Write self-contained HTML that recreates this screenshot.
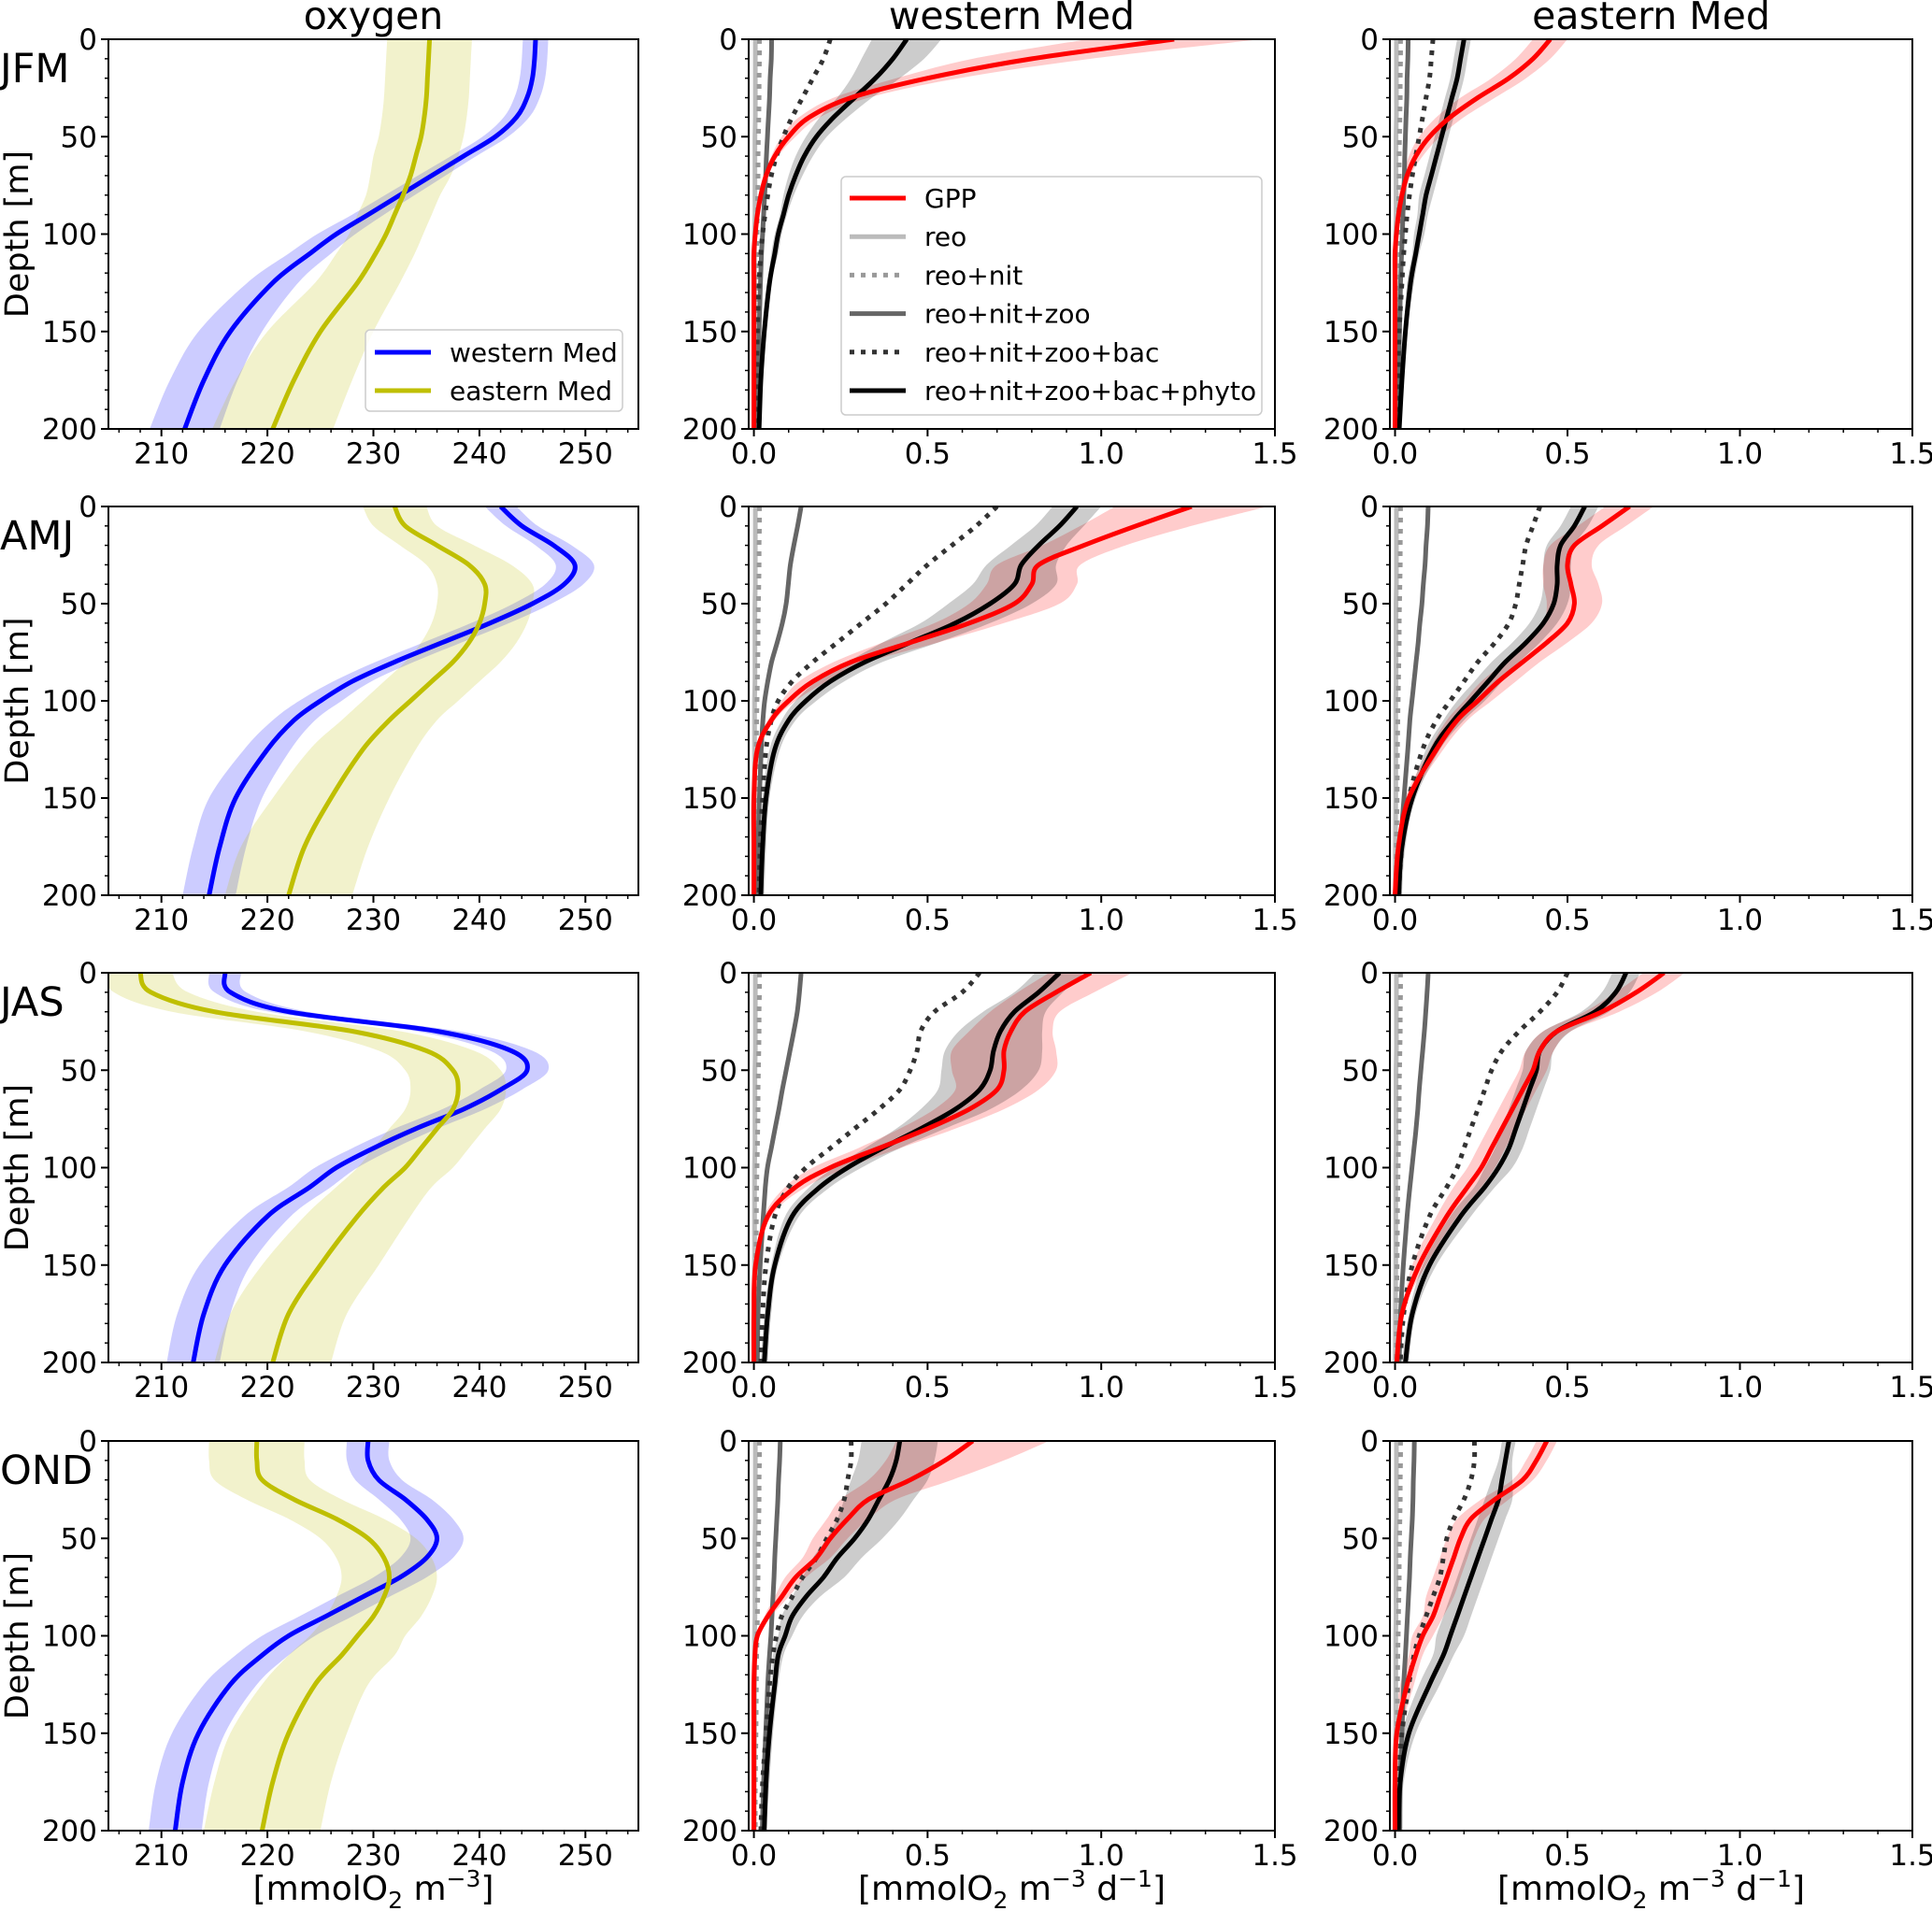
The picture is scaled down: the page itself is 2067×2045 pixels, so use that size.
<!DOCTYPE html>
<html><head><meta charset="utf-8">
<style>
html,body{margin:0;padding:0;background:#fff;}
svg{display:block;font-family:"DejaVu Sans","Liberation Sans",sans-serif;}
</style></head>
<body>
<svg id="fig" width="2067" height="2045" viewBox="0 0 2067 2045" xmlns="http://www.w3.org/2000/svg"></svg>
<script>
// ---------- data ----------
var depths = [0,10,20,30,40,50,60,70,80,90,100,110,125,150,175,200];
var seasons = ["JFM","AMJ","JAS","OND"];
var colTitles = ["oxygen","western Med","eastern Med"];
var oxTicks = [210,220,230,240,250];
var rateTicks = [0.0,0.5,1.0,1.5];
var rateTickLabels = ["0.0","0.5","1.0","1.5"];
var depthTicks = [0,50,100,150,200];

var oxWest = [
 [245.3,245.2,245,244.5,243.5,241.5,238.5,235.5,232.5,229.5,226.5,224,220.5,216.5,214,212.2],
 [242,244,247,249,248,245,241,236.5,232,228,225,222.5,220,217,215.5,214.5],
 [216,216.5,222,236,243,244.5,242,238.5,234,230,226.5,224,220,216,214,213],
 [229.5,229.5,230.5,233,235,236,235,232.5,229,225.5,222,219.5,216.5,213.5,212,211.3]];
var oxWestHw = [
 [1.2,1.2,1.2,1.2,1.2,1.2,1.2,1.3,1.4,1.5,1.8,2,2.4,3,3.2,3.3],
 [1.5,1.5,1.7,1.8,1.8,1.8,1.8,1.8,1.8,1.8,2,2,2.2,2.5,2.5,2.5],
 [1.5,1.5,1.8,2,2,2,2,2,2,2,2,2,2.2,2.4,2.5,2.5],
 [2,2,2.2,2.5,2.5,2.5,2.5,2.5,2.5,2.5,2.5,2.5,2.5,2.5,2.5,2.5]];
var oxEast = [
 [235.3,235.2,235.1,235,234.8,234.5,234,233.5,232.8,232,231.2,230.2,228.5,225,222.5,220.5],
 [232,233,236,239,240.5,240.5,240,239,237.5,235.5,233.5,231.5,229,226,223.5,222],
 [208,209,215,228,235,237.5,238,237.5,236,234.5,233,231,228.5,225,222,220.5],
 [219,219,219.5,222.5,226.5,229.5,231,231.5,231,230,228.5,227,224.5,222,220.5,219.5]];
var oxEastHw = [
 [4,4,4,4,4,4,4,3.8,3.5,3.5,3.5,3.7,4,5,5.5,5.7],
 [3,3,3.5,4,4.5,4.5,4.5,4.5,4.5,4.5,4.5,4.5,5,5.5,6,6],
 [3,3.5,4,4.5,4.5,4.5,4.5,4.5,4.5,4.5,4.5,4.5,5,5.5,5.5,5.5],
 [4.5,4.5,4.5,4.5,4.5,4.5,4.5,4.5,4.5,4.5,4.5,5,5,5.5,5.5,5.5]];

var gpp = [
 [[1.21,0.8,0.5,0.28,0.16,0.1,0.06,0.035,0.02,0.01,0.004,0,0,0,0,0],
  [0.45,0.40,0.33,0.24,0.16,0.1,0.06,0.035,0.02,0.01,0.004,0,0,0,0,0]],
 [[1.26,1.1,0.95,0.82,0.8,0.75,0.62,0.45,0.28,0.17,0.1,0.05,0.01,0,0,0],
  [0.68,0.6,0.52,0.5,0.51,0.52,0.5,0.44,0.37,0.3,0.24,0.18,0.12,0.04,0.01,0]],
 [[0.97,0.87,0.78,0.74,0.72,0.72,0.7,0.62,0.5,0.36,0.22,0.12,0.04,0.005,0,0],
  [0.78,0.7,0.6,0.47,0.42,0.4,0.37,0.34,0.31,0.28,0.25,0.21,0.15,0.07,0.02,0.005]],
 [[0.63,0.55,0.45,0.33,0.27,0.22,0.18,0.12,0.08,0.04,0.01,0.003,0,0,0,0],
  [0.44,0.41,0.37,0.29,0.22,0.19,0.17,0.15,0.13,0.11,0.08,0.06,0.035,0.005,0,0]]];
var gppHw = [
 [[0.25,0.17,0.09,0.05,0.03,0.02,0.01,0.005,0,0,0,0,0,0,0,0],
  [0.05,0.05,0.05,0.05,0.04,0.03,0.02,0.01,0.01,0,0,0,0,0,0,0]],
 [[0.22,0.16,0.12,0.12,0.13,0.13,0.1,0.08,0.05,0.04,0.02,0.01,0,0,0,0],
  [0.07,0.07,0.07,0.07,0.08,0.08,0.07,0.06,0.05,0.05,0.04,0.03,0.02,0.01,0,0]],
 [[0.12,0.11,0.1,0.12,0.15,0.15,0.12,0.1,0.08,0.06,0.05,0.03,0.01,0,0,0],
  [0.06,0.06,0.05,0.04,0.04,0.04,0.04,0.04,0.04,0.04,0.04,0.04,0.03,0.02,0,0]],
 [[0.22,0.17,0.12,0.08,0.06,0.05,0.04,0.03,0.02,0.01,0,0,0,0,0,0],
  [0.03,0.03,0.03,0.04,0.04,0.04,0.04,0.04,0.04,0.03,0.03,0.02,0.02,0.01,0,0]]];
var phyto = [
 [[0.44,0.40,0.35,0.29,0.23,0.18,0.145,0.12,0.1,0.085,0.07,0.06,0.045,0.03,0.02,0.015],
  [0.2,0.19,0.18,0.165,0.15,0.135,0.12,0.105,0.09,0.08,0.07,0.06,0.045,0.03,0.02,0.012]],
 [[0.93,0.88,0.82,0.77,0.75,0.68,0.58,0.45,0.32,0.22,0.15,0.1,0.06,0.035,0.025,0.02],
  [0.55,0.52,0.48,0.47,0.47,0.46,0.43,0.38,0.32,0.27,0.22,0.17,0.11,0.05,0.02,0.01]],
 [[0.88,0.82,0.75,0.71,0.69,0.68,0.65,0.58,0.48,0.37,0.27,0.19,0.11,0.06,0.04,0.03],
  [0.67,0.64,0.58,0.47,0.42,0.41,0.39,0.37,0.35,0.33,0.3,0.26,0.19,0.1,0.05,0.03]],
 [[0.42,0.41,0.39,0.36,0.33,0.29,0.24,0.2,0.15,0.11,0.09,0.07,0.06,0.045,0.035,0.03],
  [0.33,0.32,0.31,0.3,0.28,0.26,0.24,0.22,0.2,0.18,0.16,0.14,0.1,0.04,0.015,0.01]]];
var phytoHw = [
 [[0.1,0.09,0.07,0.05,0.04,0.03,0.025,0.02,0.015,0.01,0.01,0.01,0.005,0.005,0.005,0.005],
  [0.02,0.02,0.02,0.02,0.02,0.02,0.02,0.02,0.02,0.015,0.015,0.01,0.01,0.005,0.005,0.005]],
 [[0.07,0.07,0.08,0.1,0.12,0.12,0.1,0.08,0.05,0.04,0.03,0.02,0.015,0.01,0.01,0.01],
  [0.04,0.04,0.04,0.04,0.04,0.04,0.04,0.04,0.04,0.04,0.04,0.03,0.02,0.01,0.01,0.01]],
 [[0.07,0.07,0.09,0.12,0.14,0.14,0.12,0.1,0.07,0.05,0.04,0.03,0.02,0.01,0.01,0.01],
  [0.04,0.04,0.04,0.04,0.04,0.04,0.04,0.04,0.04,0.04,0.04,0.03,0.03,0.02,0.01,0.01]],
 [[0.11,0.11,0.11,0.1,0.09,0.08,0.07,0.06,0.04,0.03,0.02,0.015,0.01,0.01,0.01,0.005],
  [0.02,0.02,0.03,0.04,0.04,0.04,0.04,0.04,0.04,0.04,0.04,0.03,0.03,0.02,0.01,0.005]]];
var bac = [
 [[0.22,0.2,0.17,0.14,0.11,0.085,0.065,0.05,0.04,0.032,0.025,0.02,0.015,0.01,0.008,0.006],
  [0.11,0.105,0.1,0.09,0.08,0.07,0.06,0.05,0.042,0.035,0.03,0.025,0.02,0.012,0.008,0.006]],
 [[0.7,0.64,0.57,0.5,0.44,0.38,0.31,0.24,0.17,0.11,0.07,0.05,0.035,0.025,0.018,0.015],
  [0.42,0.4,0.38,0.37,0.36,0.35,0.33,0.29,0.24,0.2,0.16,0.12,0.08,0.04,0.02,0.01]],
 [[0.65,0.6,0.52,0.48,0.47,0.45,0.42,0.36,0.29,0.22,0.15,0.1,0.06,0.035,0.025,0.02],
  [0.5,0.47,0.42,0.36,0.31,0.28,0.26,0.24,0.22,0.2,0.18,0.15,0.1,0.05,0.025,0.015]],
 [[0.28,0.28,0.27,0.26,0.24,0.21,0.18,0.14,0.11,0.08,0.065,0.055,0.045,0.035,0.025,0.02],
  [0.23,0.23,0.22,0.2,0.17,0.15,0.14,0.13,0.11,0.09,0.07,0.055,0.04,0.02,0.012,0.008]]];
var zoo = [
 [[0.035,0.034,0.032,0.03,0.028,0.026,0.024,0.022,0.02,0.018,0.016,0.014,0.012,0.009,0.007,0.005],
  [0.022,0.021,0.02,0.019,0.018,0.017,0.016,0.015,0.014,0.013,0.012,0.011,0.009,0.007,0.005,0.004]],
 [[0.12,0.11,0.1,0.09,0.085,0.08,0.07,0.055,0.04,0.03,0.022,0.018,0.014,0.01,0.008,0.006],
  [0.08,0.078,0.075,0.072,0.068,0.065,0.06,0.055,0.05,0.045,0.04,0.035,0.03,0.02,0.012,0.008]],
 [[0.12,0.115,0.11,0.1,0.09,0.08,0.07,0.06,0.05,0.04,0.03,0.025,0.02,0.012,0.008,0.006],
  [0.08,0.077,0.074,0.07,0.066,0.062,0.058,0.054,0.05,0.045,0.04,0.035,0.028,0.018,0.012,0.008]],
 [[0.06,0.058,0.056,0.054,0.052,0.05,0.048,0.046,0.044,0.042,0.04,0.037,0.033,0.028,0.024,0.02],
  [0.04,0.039,0.038,0.037,0.036,0.034,0.032,0.03,0.028,0.026,0.024,0.022,0.018,0.014,0.011,0.01]]];
var nit = [0.012,0.012,0.011,0.011,0.01,0.01,0.009,0.009,0.008,0.007,0.007,0.006,0.005,0.004,0.003,0.003];
var reo = [0.004,0.004,0.004,0.004,0.004,0.003,0.003,0.003,0.003,0.003,0.002,0.002,0.002,0.002,0.001,0.001];

// ---------- layout ----------
var NS = "http://www.w3.org/2000/svg";
var svg = document.getElementById("fig");
var colX = [[116,683],[801,1364],[1487,2046]];
var rowY = [[42,459],[542,958],[1041,1458],[1542,1959]];
var oxDom = [205,255];
var rateDom = [-0.015,1.5];
var LW = 5;

function mk(tag, attrs, parent){
  var e = document.createElementNS(NS, tag);
  for (var k in attrs) e.setAttribute(k, attrs[k]);
  (parent||svg).appendChild(e);
  return e;
}
function smoothPath(pts){
  var d = "M"+pts[0][0].toFixed(1)+","+pts[0][1].toFixed(1);
  for (var i=0;i<pts.length-1;i++){
    var p0=pts[Math.max(0,i-1)], p1=pts[i], p2=pts[i+1], p3=pts[Math.min(pts.length-1,i+2)];
    var c1=[p1[0]+(p2[0]-p0[0])/6, p1[1]+(p2[1]-p0[1])/6];
    var c2=[p2[0]-(p3[0]-p1[0])/6, p2[1]-(p3[1]-p1[1])/6];
    d += " C"+c1[0].toFixed(1)+","+c1[1].toFixed(1)+" "+c2[0].toFixed(1)+","+c2[1].toFixed(1)+" "+p2[0].toFixed(1)+","+p2[1].toFixed(1);
  }
  return d;
}
function drawBand(parent, sx, sy, mean, hw, fill, name){
  var left=[], right=[];
  for (var i=0;i<depths.length;i++){ left.push([sx(mean[i]-hw[i]), sy(depths[i])]); }
  for (var j=depths.length-1;j>=0;j--){ right.push([sx(mean[j]+hw[j]), sy(depths[j])]); }
  var d = smoothPath(left) + " L" + smoothPath(right).slice(1) + " Z";
  var p = mk("path",{d:d, fill:fill, stroke:"none"}, parent);
  
  
}
function drawLine(parent, sx, sy, vals, color, w, dash, name){
  var pts=[];
  for (var i=0;i<depths.length;i++) pts.push([sx(vals[i]), sy(depths[i])]);
  var a = {d:smoothPath(pts), fill:"none", stroke:color, "stroke-width":w};
  if (dash) a["stroke-dasharray"]=dash;
  var p = mk("path",a,parent);
  
  
}
function addText(parent, x, y, size, anchor, str, name){
  var e = mk("text",{x:x, y:y, "font-size":size, "text-anchor":anchor}, parent);
  e.textContent = str;
  
  
  return e;
}

for (var c0=0;c0<3;c0++){
  addText(svg,(colX[c0][0]+colX[c0][1])/2,31,41,"middle",colTitles[c0],"column-title");
}

function drawPanel(r, c){
  var y0=rowY[r][0], yb=rowY[r][1];
  var x0=colX[c][0], x1=colX[c][1];
  var dom = c===0?oxDom:rateDom;
  var sx = function(v){ return x0 + (v-dom[0])/(dom[1]-dom[0])*(x1-x0); };
  var sy = function(d){ return y0 + (d/200)*(yb-y0); };
  var g = mk("g",{});
  
  
  var clipId = "clip"+r+"_"+c;
  var cp = mk("clipPath",{id:clipId}, g);
  mk("rect",{x:x0,y:y0,width:x1-x0,height:yb-y0},cp);
  var plot = mk("g",{"clip-path":"url(#"+clipId+")"}, g);
  if (c===0){
    drawBand(plot,sx,sy,oxWest[r], oxWestHw[r], "rgba(0,0,255,0.2)", "western-med-band");
    drawBand(plot,sx,sy,oxEast[r], oxEastHw[r], "rgba(191,191,0,0.2)", "eastern-med-band");
    drawLine(plot,sx,sy,oxWest[r], "#0000ff", LW, null, "western-med-line");
    drawLine(plot,sx,sy,oxEast[r], "#bfbf00", LW, null, "eastern-med-line");
  } else {
    var k=c-1;
    var zs=[], rn=[];
    for (var i=0;i<depths.length;i++){ zs.push(zoo[r][k][i]+nit[i]+reo[i]); rn.push(nit[i]+reo[i]); }
    drawBand(plot,sx,sy,gpp[r][k], gppHw[r][k], "rgba(255,0,0,0.2)", "gpp-band");
    drawBand(plot,sx,sy,phyto[r][k], phytoHw[r][k], "rgba(0,0,0,0.2)", "phyto-band");
    drawLine(plot,sx,sy,reo, "#bbbbbb", LW, null, "reo-line");
    drawLine(plot,sx,sy,rn, "#999999", LW, "5,7", "reo-nit-line");
    drawLine(plot,sx,sy,zs, "#666666", LW, null, "reo-nit-zoo-line");
    drawLine(plot,sx,sy,bac[r][k], "#333333", LW, "5,7", "reo-nit-zoo-bac-line");
    drawLine(plot,sx,sy,phyto[r][k], "#000000", LW, null, "reo-nit-zoo-bac-phyto-line");
    drawLine(plot,sx,sy,gpp[r][k], "#ff0000", LW, null, "gpp-line");
  }
  mk("rect",{x:x0,y:y0,width:x1-x0,height:yb-y0,fill:"none",stroke:"#000","stroke-width":2},g);
  for (var a=0;a<depthTicks.length;a++){
    var t=depthTicks[a];
    mk("line",{x1:x0-8,x2:x0,y1:sy(t),y2:sy(t),stroke:"#000","stroke-width":2},g);
    addText(g,x0-12,sy(t)+11,31,"end",String(t),"y-tick-label");
  }
  for (var m=10;m<200;m+=10){ if (m%50) mk("line",{x1:x0-4,x2:x0,y1:sy(m),y2:sy(m),stroke:"#000","stroke-width":1.5},g); }
  var ticks = c===0?oxTicks:rateTicks;
  for (var b=0;b<ticks.length;b++){
    var tv=ticks[b];
    mk("line",{x1:sx(tv),x2:sx(tv),y1:yb,y2:yb+8,stroke:"#000","stroke-width":2},g);
    addText(g,sx(tv),yb+37,31,"middle", c===0?String(tv):rateTickLabels[b],"x-tick-label");
  }
  if (c===0){ for (var mm=206;mm<255;mm+=2){ if (mm%10) mk("line",{x1:sx(mm),x2:sx(mm),y1:yb,y2:yb+4,stroke:"#000","stroke-width":1.5},g);} }
  else { for (var q=1;q<15;q++){ if (q%5) mk("line",{x1:sx(q/10),x2:sx(q/10),y1:yb,y2:yb+4,stroke:"#000","stroke-width":1.5},g);} }
  if (r===3){
    var xl = mk("text",{x:(x0+x1)/2,y:2033,"font-size":36,"text-anchor":"middle"},g);
    
    
    var parts = c===0 ? [["[mmolO",0,36],["2",9,25],[" m",-9,36],["−3",-14,25],["]",14,36]]
      : [["[mmolO",0,36],["2",9,25],[" m",-9,36],["−3",-14,25],[" d",14,36],["−1",-14,25],["]",14,36]];
    for (var p=0;p<parts.length;p++){
      var ts = mk("tspan",{dy:parts[p][1],"font-size":parts[p][2]},xl);
      ts.textContent = parts[p][0];
    }
  }
}

for (var r=0;r<4;r++){
  var y0=rowY[r][0], yb=rowY[r][1];
  addText(svg,0,y0+46,43,"start",seasons[r],"season-label");
  var yl = mk("text",{x:0,y:0,"font-size":35,"text-anchor":"middle",transform:"translate(30,"+((y0+yb)/2)+") rotate(-90)"});
  yl.textContent = "Depth [m]";
  
  
  for (var c=0;c<3;c++){
    try { drawPanel(r,c); } catch(e) { console.log(e); }
  }
}

// legend oxygen
var lg1 = mk("g",{});


mk("rect",{x:391,y:353,width:275,height:87,rx:5,fill:"rgba(255,255,255,0.8)",stroke:"#ccc","stroke-width":1.5},lg1);
var ox = [["western Med","#0000ff",377],["eastern Med","#bfbf00",418]];
for (var i1=0;i1<ox.length;i1++){
  var gg = mk("g",{},lg1);
  
  
  mk("line",{x1:401,x2:461,y1:ox[i1][2],y2:ox[i1][2],stroke:ox[i1][1],"stroke-width":LW},gg);
  addText(gg,481,ox[i1][2]+10,28,"start",ox[i1][0],"legend-label");
}
// legend rates
var lg2 = mk("g",{});


mk("rect",{x:900,y:189,width:450,height:255,rx:5,fill:"rgba(255,255,255,0.8)",stroke:"#ccc","stroke-width":1.5},lg2);
var legItems = [["GPP","#ff0000",null],["reo","#bbbbbb",null],["reo+nit","#999999","5,7"],["reo+nit+zoo","#666666",null],["reo+nit+zoo+bac","#333333","5,7"],["reo+nit+zoo+bac+phyto","#000000",null]];
for (var i2=0;i2<legItems.length;i2++){
  var it = legItems[i2];
  var yy = 212 + i2*41.2;
  var g2 = mk("g",{},lg2);
  
  
  var at = {x1:909,x2:969,y1:yy,y2:yy,stroke:it[1],"stroke-width":LW};
  if (it[2]) at["stroke-dasharray"]=it[2];
  mk("line",at,g2);
  addText(g2,989,yy+10,28,"start",it[0],"legend-label");
}
</script>
</body></html>
